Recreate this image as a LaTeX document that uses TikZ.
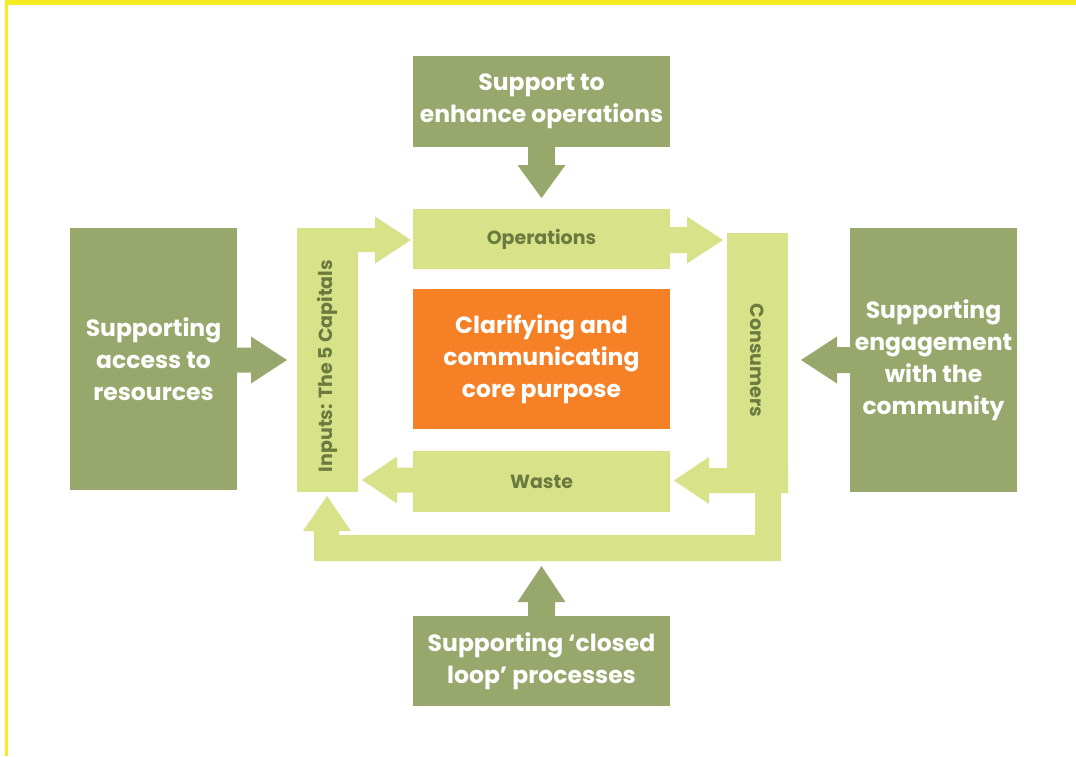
\documentclass[tikz,border=0pt]{standalone}
\usepackage{fontspec}
\setmainfont{Poppins}
\definecolor{dkgreen}{HTML}{98A86C}
\definecolor{ltgreen}{HTML}{D7E289}
\definecolor{orng}{HTML}{F58025}
\definecolor{olive}{HTML}{6B7A3E}
\definecolor{ylw}{HTML}{F6EC22}
\tikzset{
  darkbox/.style={fill=dkgreen, draw=none, inner sep=0pt, text=white, align=center,
    font=\bfseries\fontsize{23.5}{32}\selectfont},
  corebox/.style={darkbox, fill=orng},
  lightbar/.style={fill=ltgreen, draw=none, inner sep=0pt},
  lighttext/.style={inner sep=0pt, text=olive, font=\bfseries\fontsize{19}{22}\selectfont},
  darkarrow/.style={fill=dkgreen},
  lightarrow/.style={fill=ltgreen},
}
% horizontal block arrow: style, x start, x head base, x tip, y centre, shaft half, head half
\newcommand\hblk[7]{\fill[#1] (#2,{#5-#6}) -- (#3,{#5-#6}) -- (#3,{#5-#7}) -- (#4,#5) -- (#3,{#5+#7}) -- (#3,{#5+#6}) -- (#2,{#5+#6}) -- cycle;}
% vertical block arrow: style, y start, y head base, y tip, x centre, shaft half, head half
\newcommand\vblk[7]{\fill[#1] ({#5-#6},#2) -- ({#5-#6},#3) -- ({#5-#7},#3) -- (#5,#4) -- ({#5+#7},#3) -- ({#5+#6},#3) -- ({#5+#6},#2) -- cycle;}
\begin{document}
\begin{tikzpicture}[x=1pt,y=-1pt]
\useasboundingbox (0,0) rectangle (1076,756);
% frame
\fill[ylw] (5,0) rectangle (1076,5);
\fill[ylw] (5,0) rectangle (8,756);

% outer support boxes
\node[darkbox, minimum width=257pt, minimum height=91pt] (top) at (541.5,101.5) {Support to\\enhance operations};
\node[darkbox, minimum width=257pt, minimum height=90pt] (bottom) at (541.5,661) {Supporting ‘closed\\loop’ processes};
\node[darkbox, minimum width=167pt, minimum height=262pt] (left) at (153.5,359) {Supporting\\access to\\resources};
\node[darkbox, minimum width=167pt, minimum height=264pt] (right) at (933.5,360) {Supporting\\engagement\\with the\\community};

% core
\node[corebox, minimum width=257pt, minimum height=140pt] (core) at (541.5,359) {Clarifying and\\communicating\\core purpose};

% cycle bars
\node[lightbar, minimum width=257pt, minimum height=60pt] (ops) at (541.5,239) {};
\node[lightbar, minimum width=257pt, minimum height=61pt] (waste) at (541.5,481.5) {};
\node[lightbar, minimum width=61pt, minimum height=264pt] (inputs) at (327.5,360) {};
\node[lightbar, minimum width=61pt, minimum height=260pt] (cons) at (757.5,363) {};

% light arrows of the cycle
\hblk{lightarrow}{358}{375}{411}{240}{12}{23.5}
\hblk{lightarrow}{670}{687}{723}{240}{13}{23.5}
\hblk{lightarrow}{788}{709}{674}{480.5}{12.5}{23.5}
\hblk{lightarrow}{413}{397}{362}{480}{12.5}{23.5}
% closed loop return
\fill[lightarrow] (755,493) -- (781,493) -- (781,561) -- (314,561) -- (314,531) -- (303,531)
  -- (327,496) -- (351,531) -- (339,531) -- (339,535) -- (755,535) -- cycle;

% dark support arrows
\vblk{darkarrow}{147}{165}{198}{541.5}{13.5}{24}
\vblk{darkarrow}{616}{602}{566}{541.5}{13.5}{24}
\hblk{darkarrow}{237}{251}{287}{360}{12.5}{23.5}
\hblk{darkarrow}{850}{837}{801}{360}{13}{23.5}

% labels of the cycle
\node[lighttext] (opslbl) at (ops.center) {Operations};
\node[lighttext] (wastelbl) at (waste.center) {Waste};
\node[lighttext, rotate=90] (inlbl) at (327.5,366) {Inputs: The 5 Capitals};
\node[lighttext, rotate=-90] (conslbl) at (757.5,360.5) {Consumers};
\end{tikzpicture}
\end{document}
